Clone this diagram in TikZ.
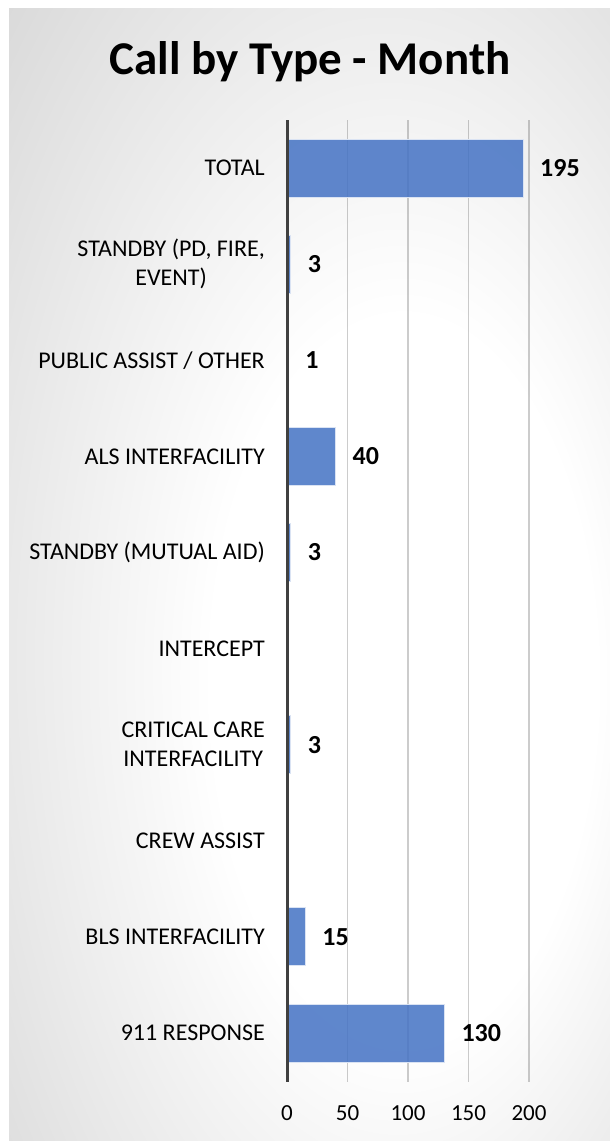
\documentclass[tikz,border=0pt]{standalone}
\usepackage{fontspec}
\setmainfont{Carlito}
\definecolor{barblue}{RGB}{68,114,196}
\definecolor{axisgray}{RGB}{64,64,64}
\pgfdeclareradialshading{bgrad}{\pgfpoint{10bp}{-6bp}}{color(0bp)=(white); color(16bp)=(white); color(50bp)=(gray!40); color(75bp)=(gray!54)}
\begin{document}
\begin{tikzpicture}[x=1pt,y=-1pt,
  catlab/.style={anchor=east, font=\fontsize{24}{29}\selectfont, align=center, inner sep=0pt},
  vallab/.style={anchor=west, font=\bfseries\fontsize{26}{30}\selectfont, inner sep=0pt},
  ticklab/.style={anchor=center, font=\fontsize{23}{26}\selectfont, inner sep=0pt},
  gridln/.style={draw=black, draw opacity=0.2, line width=1.3pt},
  barbox/.style={fill=barblue, fill opacity=0.85, draw=white!80!barblue, line width=0.8pt}
]
\useasboundingbox (0,0) rectangle (610,1141);
\shade[shading=bgrad] (9,8) rectangle (610,1141);

% title
\node[font=\bfseries\fontsize{47}{52}\selectfont, inner sep=0pt, anchor=base] (title) at (310,74) {Call by Type - Month};

% gridlines
\foreach \v/\nm in {50/g50,100/g100,150/g150,200/g200}{
  \coordinate (\nm top) at ({287+1.21*\v},120);
  \coordinate (\nm bot) at ({287+1.21*\v},1082);
  \draw[gridln] (\nm top) -- (\nm bot);
}

% bars, category labels and values
\foreach \i/\v/\lab/\nm/\show in {
  0/195/{TOTAL}/total/1,
  1/3/{STANDBY (PD, FIRE,\\EVENT)}/standbypd/1,
  2/1/{PUBLIC ASSIST / OTHER}/public/1,
  3/40/{ALS INTERFACILITY}/als/1,
  4/3/{STANDBY (MUTUAL AID)}/standbyma/1,
  5/0/{INTERCEPT}/intercept/0,
  6/3/{CRITICAL CARE\\INTERFACILITY}/critical/1,
  7/0/{CREW ASSIST}/crew/0,
  8/15/{BLS INTERFACILITY}/bls/1,
  9/130/{911 RESPONSE}/resp/1}{
  \pgfmathsetmacro{\yc}{168+96.1*\i}
  \node[catlab] (cat\nm) at (265,\yc) {\lab};
  \ifnum\show=1
    \path[barbox] (287,\yc-29) rectangle ({287+1.21*\v},\yc+29);
    \coordinate (end\nm) at ({287+1.21*\v},\yc);
    \node[vallab] (val\nm) at ([xshift=17pt]end\nm) {\v};
  \fi
}

% axis
\coordinate (axtop) at (287,120);
\coordinate (axbot) at (287,1082);
\draw[axisgray, line width=3pt] (axtop) -- (axbot);

% tick labels
\foreach \v/\nm in {0/t0,50/t50,100/t100,150/t150,200/t200}{
  \node[ticklab] (\nm) at ({287+1.21*\v},1113) {\v};
}
\end{tikzpicture}
\end{document}
